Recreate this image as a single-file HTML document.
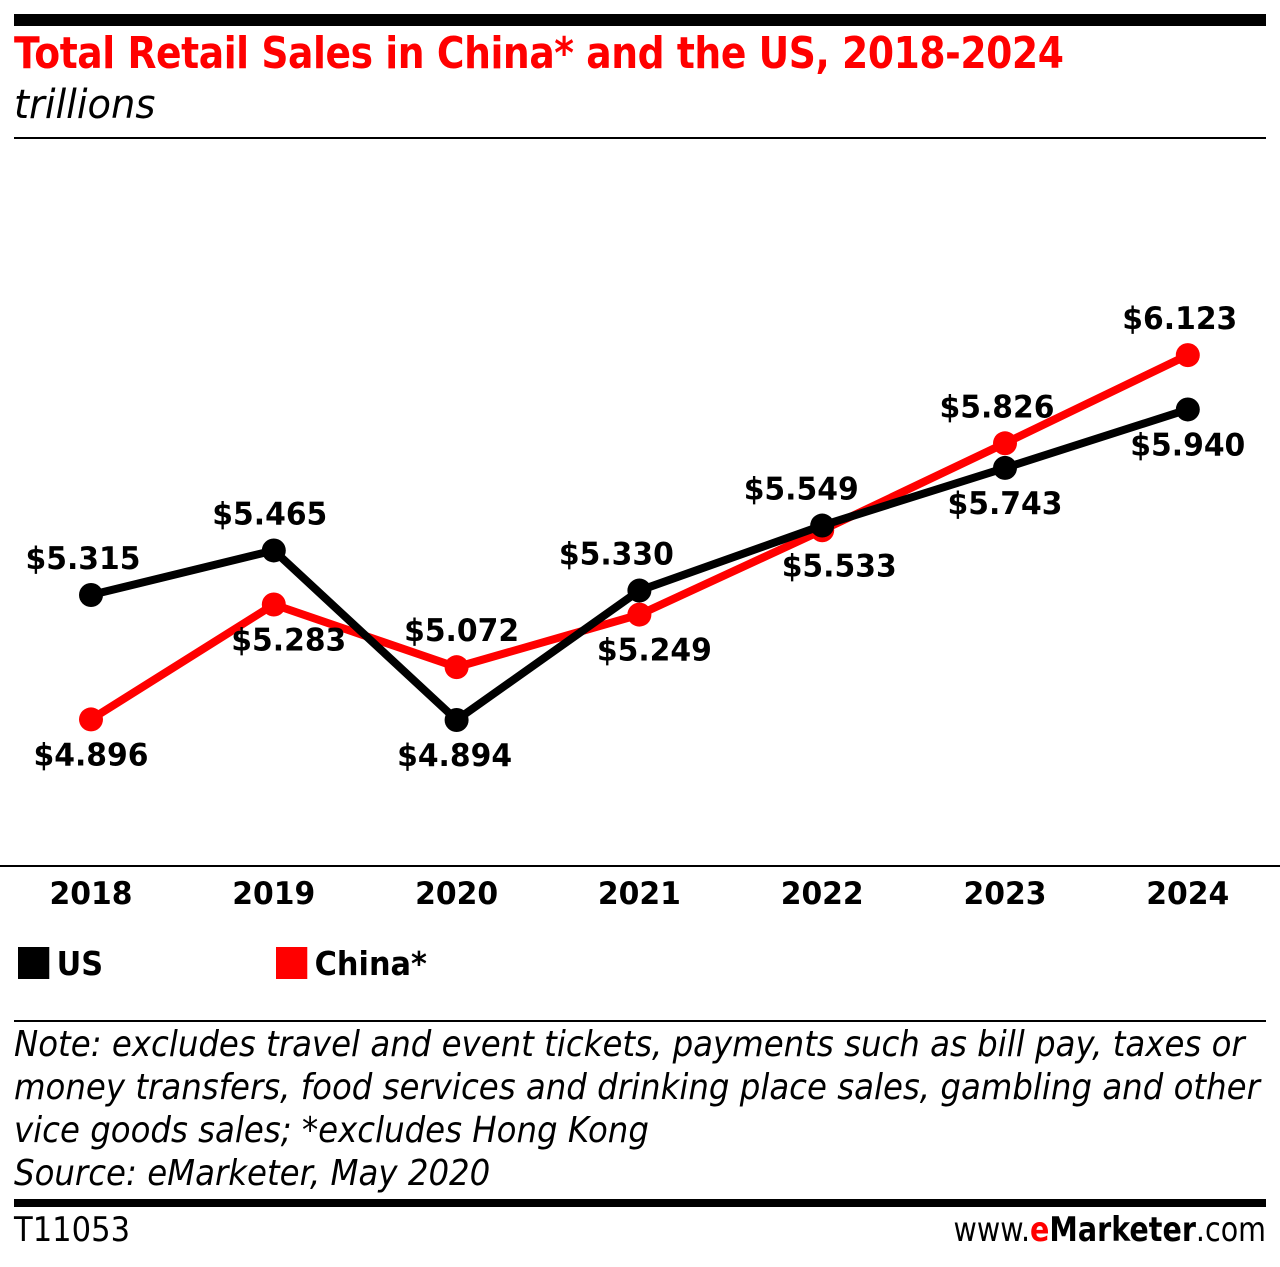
<!DOCTYPE html>
<html><head><meta charset="utf-8"><style>
body{margin:0;width:1280px;height:1267px;background:#fff;font-family:"Liberation Sans",sans-serif;position:relative;overflow:hidden}
.a{position:absolute;white-space:nowrap}
</style></head><body>
<div class="a" style="left:14px;top:14px;width:1252px;height:12px;background:#000"></div>
<div class="a" style="left:14px;top:28px;font-size:44px;font-weight:bold;color:#f00;font-family:'DejaVu Sans',sans-serif;letter-spacing:-0.5px;transform:scaleX(0.856);transform-origin:left">Total Retail Sales in China* and the US, 2018-2024</div>
<div class="a" style="left:14px;top:82px;font-size:40px;font-style:italic;font-family:'DejaVu Sans',sans-serif;transform:scaleX(0.96);transform-origin:left">trillions</div>
<div class="a" style="left:14px;top:137px;width:1252px;height:2px;background:#000"></div>
<svg class="a" style="left:0;top:0" width="1280" height="1267">
<line x1="0" y1="866" x2="1280" y2="866" stroke="#000" stroke-width="2"/>
<g id="g"></g>
</svg>
<div class="a" style="left:18px;top:944px;font-size:33px;font-weight:bold;font-family:'DejaVu Sans',sans-serif;transform:scaleX(0.92);transform-origin:left"><span style="display:inline-block;width:34px;height:32px;background:#000;vertical-align:-4px;margin-right:8px"></span>US</div>
<div class="a" style="left:276px;top:944px;font-size:33px;font-weight:bold;font-family:'DejaVu Sans',sans-serif;transform:scaleX(0.92);transform-origin:left"><span style="display:inline-block;width:34px;height:32px;background:#f00;vertical-align:-4px;margin-right:8px"></span>China*</div>
<div class="a" style="left:14px;top:1020px;width:1252px;height:2px;background:#000"></div>
<div class="a" style="left:14px;top:1023px;font-size:36px;line-height:43px;font-style:italic;font-family:'DejaVu Sans',sans-serif;transform:scaleX(0.9);transform-origin:left">Note: excludes travel and event tickets, payments such as bill pay, taxes or<br>money transfers, food services and drinking place sales, gambling and other<br>vice goods sales; *excludes Hong Kong<br>Source: eMarketer, May 2020</div>
<div class="a" style="left:14px;top:1199px;width:1252px;height:8px;background:#000"></div>
<div class="a" style="left:14px;top:1210px;font-size:34px;font-family:'DejaVu Sans',sans-serif;transform:scaleX(0.9);transform-origin:left">T11053</div>
<div class="a" style="right:14px;top:1210px;font-size:34px;font-family:'DejaVu Sans',sans-serif;transform:scaleX(0.84);transform-origin:right">www.<b style="color:#f00">e</b><b>Marketer</b>.com</div>
<script>
const years=['2018','2019','2020','2021','2022','2023','2024'];
const usValues=[5.315,5.465,4.894,5.330,5.549,5.743,5.940];
const chinaValues=[4.896,5.283,5.072,5.249,5.533,5.826,6.123];
const usLabelAbove=[1,1,0,1,1,0,0];
const chinaLabelAbove=[0,0,1,0,0,1,1];
const usDx=[-8,-4,-2,-23,-21,0,0];
const chinaDx=[0,15,5,15,17,-8,-8];
const xs=i=>91+i*182.8;
const ys=v=>720-(v-4.894)*296.9;
const g=document.getElementById('g');
const NS='http://www.w3.org/2000/svg';
function mk(t,a){const e=document.createElementNS(NS,t);for(const k in a)e.setAttribute(k,a[k]);g.appendChild(e);return e;}
years.forEach((y,i)=>{const t=mk('text',{x:xs(i),y:904,'text-anchor':'middle','font-size':31,'font-weight':'bold','font-family':'DejaVu Sans,sans-serif',textLength:83,lengthAdjust:'spacingAndGlyphs'});t.textContent=y;

});
function series(vals,col,name,above,dx){
 const p=mk('polyline',{points:vals.map((v,i)=>xs(i)+','+ys(v)).join(' '),fill:'none',stroke:col,'stroke-width':8,'stroke-linejoin':'round'});
 
 
 vals.forEach((v,i)=>{const c=mk('circle',{cx:xs(i),cy:ys(v),r:12,fill:col});
  
  });
 return ()=>vals.forEach((v,i)=>{const t=mk('text',{x:xs(i)+dx[i],y:ys(v)+(above[i]?-26:46),'text-anchor':'middle','font-size':31,'font-weight':'bold','font-family':'DejaVu Sans,sans-serif',textLength:115,lengthAdjust:'spacingAndGlyphs'});
  t.textContent='$'+v.toFixed(3);
  
  });
}
const l1=series(chinaValues,'#f00','china',chinaLabelAbove,chinaDx);
const l2=series(usValues,'#000','us',usLabelAbove,usDx);
l1();l2();
</script>
</body></html>
